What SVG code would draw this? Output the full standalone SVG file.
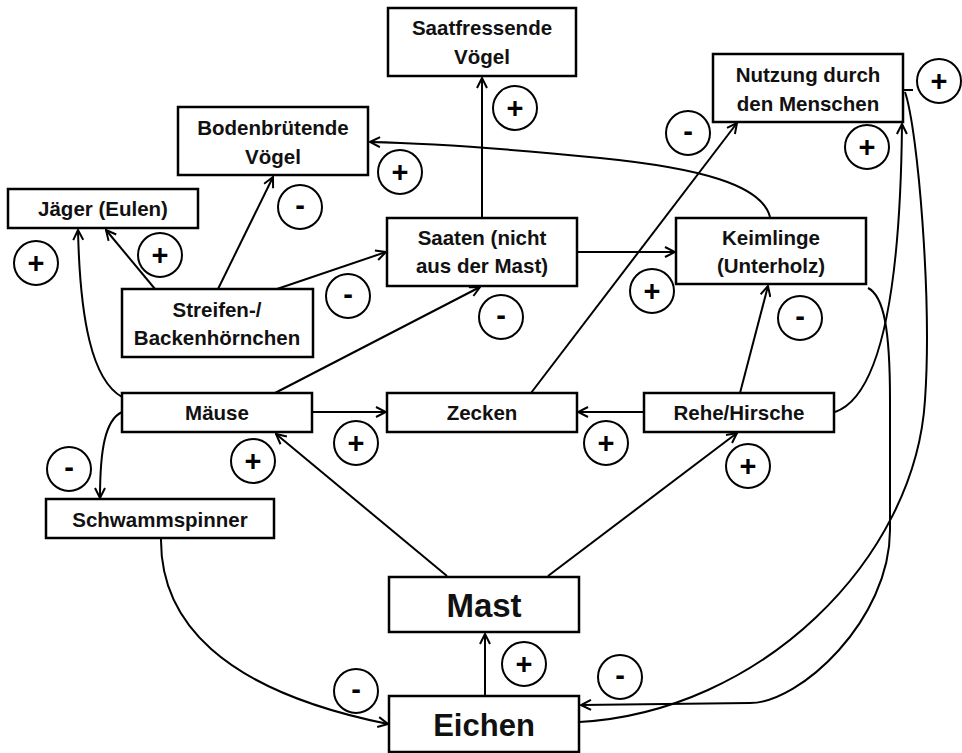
<svg xmlns="http://www.w3.org/2000/svg" width="962" height="753" viewBox="0 0 962 753">
<defs>
<marker id="arr" viewBox="0 0 12 12" refX="11" refY="6" markerWidth="12" markerHeight="12" markerUnits="userSpaceOnUse" orient="auto">
<path d="M1,1 L11,6 L1,11" fill="none" stroke="#000" stroke-width="2"/>
</marker>
<style>
.box{fill:#fff;stroke:#000;stroke-width:2.5}
.t{font-family:"Liberation Sans",Arial,sans-serif;font-weight:bold;font-size:20.5px;text-anchor:middle;fill:#111}
.big{font-size:33px}
.c{fill:#fff;stroke:#000;stroke-width:2}
.s{font-family:"Liberation Sans",Arial,sans-serif;font-weight:bold;font-size:29px;text-anchor:middle;fill:#000}
.e{fill:none;stroke:#000;stroke-width:2}
.a{marker-end:url(#arr)}
</style>
</defs>
<rect width="962" height="753" fill="#fff"/>
<g id="connectors">
<path class="e a" d="M482,218 L482,78"/>
<path class="e a" d="M577,252 L675,252"/>
<path class="e a" d="M277,289 L386,252"/>
<path class="e a" d="M218,289 L273,177"/>
<path class="e a" d="M160,295 L106,230"/>
<path class="e a" d="M122,397 C92,380 80,320 78,230"/>
<path class="e a" d="M122,412 C105,420 100,450 100,498"/>
<path class="e a" d="M275,393 L480,287"/>
<path class="e a" d="M312,412 L386,412"/>
<path class="e a" d="M644,412 L578,412"/>
<path class="e a" d="M740,393 L768,286"/>
<path class="e a" d="M531,393 L737,123"/>
<path class="e a" d="M835,412 C870,400 900,330 902,124"/>
<path class="e a" d="M770,217 C762,185 700,168 600,158 C500,148 420,143 370,142"/>
<path class="e a" d="M868,288 C884,296 890,330 890,400 L890,530 C890,620 800,703 750,703 L581,705"/>
<path class="e" d="M579,722 C760,712 915,560 925,400 C932,300 918,130 905,92"/>
<path class="e" d="M903,90 L913,90"/>
<path class="e a" d="M161,538 C160,620 220,690 388,724"/>
<path class="e a" d="M485,696 L485,634"/>
<path class="e a" d="M447,576 L276,434"/>
<path class="e a" d="M548,576 L737,433"/>
</g>
<g id="saatfressende">
<rect class="box" x="388" y="8" width="188" height="68"/>
<text class="t" x="482" y="35">Saatfressende</text>
<text class="t" x="482" y="64">Vögel</text>
</g>
<g id="nutzung">
<rect class="box" x="713" y="54" width="190" height="68"/>
<text class="t" x="808" y="82">Nutzung durch</text>
<text class="t" x="808" y="111">den Menschen</text>
</g>
<g id="bodenbruetende">
<rect class="box" x="178" y="107" width="190" height="68"/>
<text class="t" x="273" y="135">Bodenbrütende</text>
<text class="t" x="273" y="164">Vögel</text>
</g>
<g id="jaeger">
<rect class="box" x="8" y="189" width="190" height="39"/>
<text class="t" x="103" y="216">Jäger (Eulen)</text>
</g>
<g id="streifen">
<rect class="box" x="122" y="289" width="191" height="68"/>
<text class="t" x="217" y="317">Streifen-/</text>
<text class="t" x="217" y="345">Backenhörnchen</text>
</g>
<g id="saaten">
<rect class="box" x="387" y="218" width="190" height="68"/>
<text class="t" x="482" y="245">Saaten (nicht</text>
<text class="t" x="482" y="273">aus der Mast)</text>
</g>
<g id="keimlinge">
<rect class="box" x="676" y="218" width="190" height="66"/>
<text class="t" x="771" y="245">Keimlinge</text>
<text class="t" x="771" y="273">(Unterholz)</text>
</g>
<g id="maeuse">
<rect class="box" x="122" y="393" width="190" height="39"/>
<text class="t" x="217" y="420">Mäuse</text>
</g>
<g id="zecken">
<rect class="box" x="387" y="393" width="190" height="39"/>
<text class="t" x="482" y="420">Zecken</text>
</g>
<g id="rehe">
<rect class="box" x="644" y="393" width="190" height="39"/>
<text class="t" x="739" y="420">Rehe/Hirsche</text>
</g>
<g id="schwammspinner">
<rect class="box" x="46" y="499" width="228" height="39"/>
<text class="t" x="160" y="527">Schwammspinner</text>
</g>
<g id="mast">
<rect class="box" x="389" y="577" width="190" height="55"/>
<text class="t big" x="484" y="617">Mast</text>
</g>
<g id="eichen">
<rect class="box" x="389" y="696" width="190" height="56"/>
<text class="t big" x="484" y="736" style="font-size:31px">Eichen</text>
</g>
<g id="signs">
<circle class="c" cx="515" cy="108" r="22"/><text class="s" x="515" y="118">+</text>
<circle class="c" cx="688" cy="133" r="22"/><text class="s" x="688" y="141">-</text>
<circle class="c" cx="867" cy="147" r="22"/><text class="s" x="867" y="157">+</text>
<circle class="c" cx="939" cy="81" r="22"/><text class="s" x="939" y="91">+</text>
<circle class="c" cx="400" cy="172" r="22"/><text class="s" x="400" y="182">+</text>
<circle class="c" cx="300" cy="207" r="22"/><text class="s" x="300" y="215">-</text>
<circle class="c" cx="36" cy="263" r="22"/><text class="s" x="36" y="273">+</text>
<circle class="c" cx="160" cy="255" r="22"/><text class="s" x="160" y="265">+</text>
<circle class="c" cx="348" cy="296" r="22"/><text class="s" x="348" y="304">-</text>
<circle class="c" cx="501" cy="317" r="22"/><text class="s" x="501" y="325">-</text>
<circle class="c" cx="652" cy="291" r="22"/><text class="s" x="652" y="301">+</text>
<circle class="c" cx="800" cy="318" r="22"/><text class="s" x="800" y="326">-</text>
<circle class="c" cx="253" cy="461" r="22"/><text class="s" x="253" y="471">+</text>
<circle class="c" cx="356" cy="443" r="22"/><text class="s" x="356" y="453">+</text>
<circle class="c" cx="69" cy="469" r="22"/><text class="s" x="69" y="477">-</text>
<circle class="c" cx="606" cy="443" r="22"/><text class="s" x="606" y="453">+</text>
<circle class="c" cx="748" cy="466" r="22"/><text class="s" x="748" y="476">+</text>
<circle class="c" cx="524" cy="664" r="22"/><text class="s" x="524" y="674">+</text>
<circle class="c" cx="356" cy="691" r="22"/><text class="s" x="356" y="699">-</text>
<circle class="c" cx="620" cy="677" r="22"/><text class="s" x="620" y="685">-</text>
</g>
</svg>
